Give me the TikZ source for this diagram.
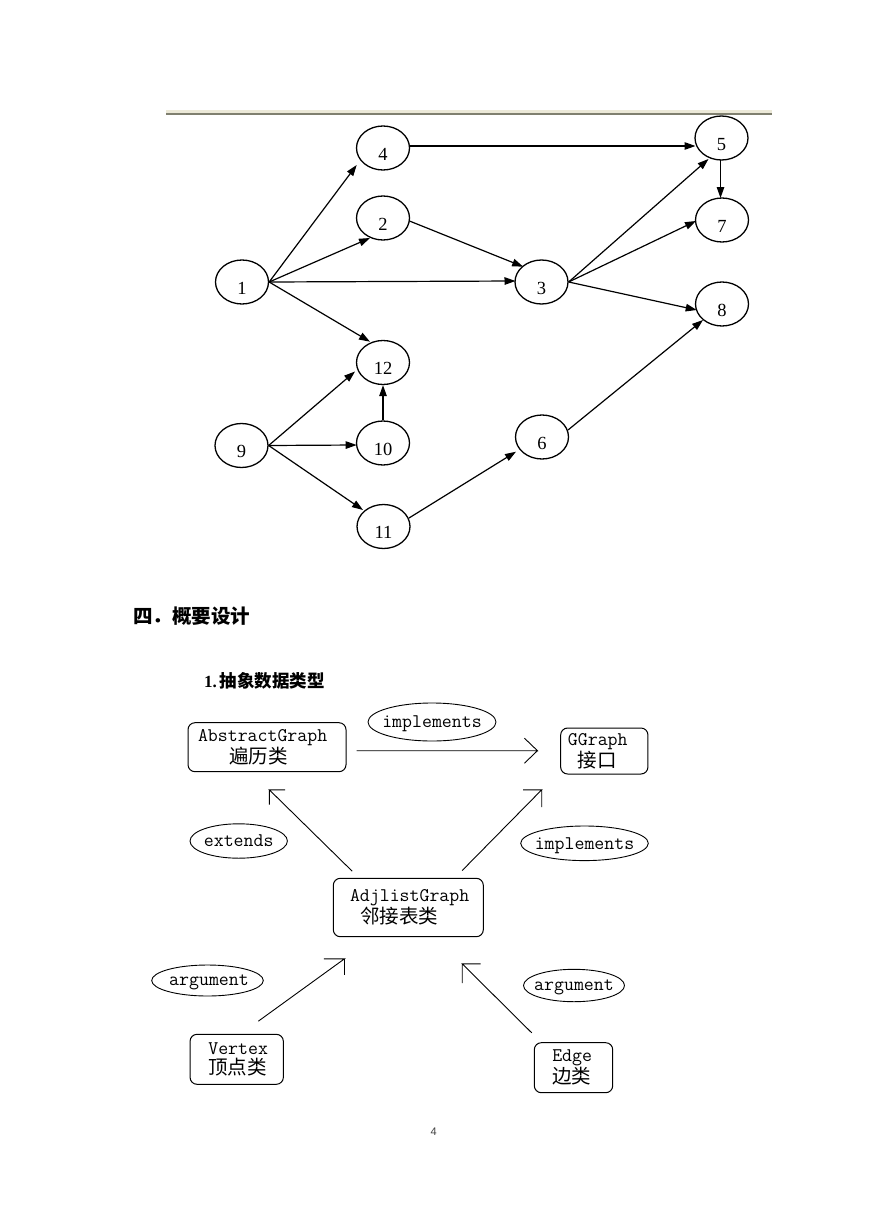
\documentclass[tikz,border=0pt]{standalone}
\usepackage{fontspec}
\setmainfont{Liberation Serif}
\newfontfamily\cjk{Noto Sans CJK SC}
\newfontfamily\sansf{Liberation Sans}
\usetikzlibrary{arrows.meta,shapes.geometric}
\newcommand\zh[1]{{\cjk\fontsize{19.5}{20}\selectfont #1}}
\definecolor{rulerbg}{RGB}{236,233,216}
\definecolor{rulerdk}{RGB}{128,128,112}
\tikzset{
  vtx/.style={ellipse, draw, line width=1.3pt, minimum width=53pt, minimum height=44pt,
    inner sep=0pt, text height=24pt, text depth=0pt, font=\fontsize{18.5}{19}\selectfont},
  edge/.style={line width=1.2pt, -{Triangle[length=11pt,width=7.5pt]}},
  umlbox/.style={draw, rounded corners=7pt, line width=1pt, align=left, inner ysep=0pt,
    font=\ttfamily\fontsize{19.3}{20}\selectfont},
  lbl/.style={inner sep=0pt, text depth=0pt, font=\ttfamily\fontsize{19.3}{20}\selectfont},
  oval/.style={line width=0.9pt},
  conn/.style={line width=0.9pt},
}
\begin{document}
\begin{tikzpicture}[x=1pt,y=-1pt]
\useasboundingbox (0,0) rectangle (869,1228);
\fill[white] (0,0) rectangle (869,1228);
% ruler strip
\fill[rulerbg] (166,110) rectangle (772,113.3);
\fill[rulerdk] (166,113.3) rectangle (772,115);
% top graph nodes
\node[vtx] (n1) at (242,282) {1};
\node[vtx] (n4) at (383,148) {4};
\node[vtx] (n2) at (383,218) {2};
\node[vtx] (n3) at (541.5,282) {3};
\node[vtx] (n5) at (721.5,138) {5};
\node[vtx] (n7) at (722,220) {7};
\node[vtx] (n8) at (722,304) {8};
\node[vtx] (n12) at (383,362.5) {12};
\node[vtx] (n10) at (383,443) {10};
\node[vtx] (n9) at (241.5,445.5) {9};
\node[vtx] (n11) at (383.5,526.5) {11};
\node[vtx] (n6) at (542,437) {6};
% top graph edges
\draw[edge] (n1.east) -- ([shift={(-26.3,17)}]n4.center);
\draw[edge] (n1.east) -- ([shift={(-13,20)}]n2.center);
\draw[edge] (n1.east) -- ([shift={(-26,-1)}]n3.center);
\draw[edge] (n1.east) -- ([shift={(-13,-20.8)}]n12.center);
\draw[edge] ([shift={(26.5,3)}]n2.center) -- ([shift={(-18.3,-15.3)}]n3.center);
\draw[edge] ([shift={(26.5,-2)}]n4.center) -- ([shift={(-26,8)}]n5.center);
\draw[edge] (n3.east) -- ([shift={(-13,21)}]n5.center);
\draw[edge] (n3.east) -- ([shift={(-26,1)}]n7.center);
\draw[edge] (n3.east) -- ([shift={(-25.3,6)}]n8.center);
\draw[edge] ([shift={(-1,22)}]n5.center) -- ([shift={(-1.5,-22)}]n7.center);
\draw[edge] ([shift={(26,-7)}]n6.center) -- ([shift={(-19,16)}]n8.center);
\draw[edge] (n9.east) -- ([shift={(-28,9)}]n12.center);
\draw[edge] (n9.east) -- ([shift={(-26.3,2)}]n10.center);
\draw[edge] (n9.east) -- ([shift={(-20.5,-16.5)}]n11.center);
\draw[edge] (n10.north) -- (n12.south);
\draw[edge] ([shift={(25.5,-8.5)}]n11.center) -- ([shift={(-26,14.7)}]n6.center);
% headings
\node[anchor=west, inner sep=0pt, font=\cjk\bfseries\fontsize{19.5}{20}\selectfont] (h1) at (133,616) {四．概要设计};
\node[anchor=west, inner sep=0pt, font=\bfseries\fontsize{17}{18}\selectfont] (h2) at (204,681)
  {1.\hspace{3pt}{\cjk\bfseries\fontsize{17.5}{18}\selectfont 抽象数据类型}};
% class boxes
\node[umlbox, minimum height=49pt, text width=138pt, inner xsep=10pt] (ag) at (267,747.2)
  {AbstractGraph\\\hspace*{31pt}\zh{遍历类}};
\node[umlbox, minimum height=46pt, text width=72.7pt, inner xsep=7.3pt] (gg) at (604.3,751)
  {GGraph\\\hspace*{10pt}\zh{接口}};
\node[umlbox, minimum height=58.4pt, text width=116.6pt, inner xsep=16.7pt] (adj) at (408.3,907.5)
  {AdjlistGraph\\\hspace*{10pt}\zh{邻接表类}};
\node[umlbox, minimum height=50pt, text width=56.7pt, inner xsep=18.3pt] (vx) at (236.7,1059.3)
  {Vertex\\\zh{顶点类}};
\node[umlbox, minimum height=50pt, text width=42.4pt, inner xsep=18pt] (ed) at (573.5,1067.7)
  {Edge\\\zh{边类}};
% label ovals
\node[lbl] (im1) at (432,722) {implements};
\draw[oval] (im1.center) ellipse [x radius=64, y radius=19];
\node[lbl] (ext) at (238.7,841) {extends};
\draw[oval] (ext.center) ellipse [x radius=48.7, y radius=17.2];
\node[lbl] (im2) at (584.5,843.3) {implements};
\draw[oval] (im2.center) ellipse [x radius=63.8, y radius=17.3];
\node[lbl] (ar1) at (209,980.5) {argument};
\draw[oval] ([xshift=-1.5pt]ar1.center) ellipse [x radius=55.8, y radius=15.5];
\node[lbl] (ar2) at (574,985.5) {argument};
\draw[oval] (ar2.center) ellipse [x radius=50.5, y radius=16.2];
% connectors
\coordinate (c1s) at ([shift={(10,3.5)}]ag.east);
\coordinate (c1t) at ([shift={(-22.7,-0.3)}]gg.west);
\draw[conn] (c1s) -- (c1t) -- ++(-13,-12.5) (c1t) -- ++(-13,12.5);
\coordinate (c2s) at ([shift={(19.4,-6.6)}]adj.north west);
\coordinate (c2t) at ([shift={(2.3,17.6)}]ag.south);
\draw[conn] (c2s) -- (c2t) -- ++(15.7,0) (c2t) -- ++(0,14.7);
\coordinate (c3s) at ([shift={(-21.6,-7.3)}]adj.north east);
\coordinate (c3t) at ([shift={(-62.6,15.3)}]gg.south);
\draw[conn] (c3s) -- (c3t) -- ++(-18.7,0) (c3t) -- ++(0,17.4);
\coordinate (c4s) at ([shift={(21.6,-12.6)}]vx.north);
\coordinate (c4t) at ([shift={(11.7,21.6)}]adj.south west);
\draw[conn] (c4s) -- (c4t) -- ++(-20.7,0) (c4t) -- ++(0,16);
\coordinate (c5s) at ([shift={(-41.8,-9.4)}]ed.north);
\coordinate (c5t) at ([shift={(-21.6,26.6)}]adj.south east);
\draw[conn] (c5s) -- (c5t) -- ++(18.3,0) (c5t) -- ++(0,19.4);
% page number
\node[inner sep=0pt, text=black!75, font=\sansf\fontsize{11}{12}\selectfont] (pg) at (433.7,1132) {4};
\end{tikzpicture}
\end{document}
